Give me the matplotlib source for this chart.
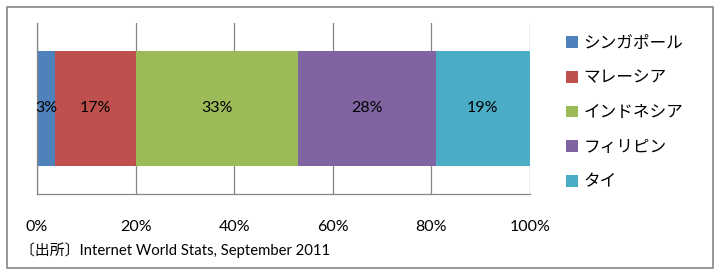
import matplotlib.pyplot as plt
from matplotlib.patches import Rectangle
from matplotlib.ticker import PercentFormatter

plt.rcParams['font.family'] = ['Lato', 'Noto Sans CJK JP', 'DejaVu Sans']

# Share of internet users (%)
countries = ["シンガポール", "マレーシア", "インドネシア", "フィリピン", "タイ"]
shares = [3.6, 16.5, 32.9, 27.9, 19.1]
share_labels = ["3%", "17%", "33%", "28%", "19%"]
colors = ["#4F81BD", "#C0504D", "#9BBB59", "#8064A2", "#4BACC6"]
ticks = [0, 20, 40, 60, 80, 100]
source = "〔出所〕Internet World Stats, September 2011"

fig = plt.figure(figsize=(7.2, 2.77), dpi=100)
ax = fig.add_axes([37 / 720, 1 - 194 / 277, 493 / 720, 171 / 277])

left = 0
for name, val, lab, col in zip(countries, shares, share_labels, colors):
    bars = ax.barh(0, val, left=left, height=0.667, color=col, label=name, zorder=2)
    ax.bar_label(bars, labels=[lab], label_type="center", fontsize=11.5, color="black")
    left += val

ax.set_xlim(0, 100)
ax.set_ylim(-0.5, 0.5)
ax.set_xticks(ticks)
ax.xaxis.set_major_formatter(PercentFormatter(decimals=0))
ax.set_yticks([])
ax.tick_params(axis="x", length=0, pad=18.5, labelsize=11.5)
ax.grid(axis="x", color="#868686", linewidth=0.9, zorder=0)
for s in ["top", "right"]:
    ax.spines[s].set_visible(False)
for s in ["left", "bottom"]:
    ax.spines[s].set_color("#868686")
    ax.spines[s].set_linewidth(0.9)

leg = ax.legend(loc="upper left", bbox_to_anchor=(566 / 720, 1 - 35 / 277),
                bbox_transform=fig.transFigure, frameon=False, fontsize=12,
                handlelength=0.7, handleheight=0.7, handletextpad=0.35,
                labelspacing=1.12, borderpad=0, borderaxespad=0)

fig.text(20 / 720, 1 - 250 / 277, source, fontsize=10.7, va="center", ha="left")

fig.patches.append(Rectangle((7 / 720, 1 - 268 / 277), 706 / 720, 261 / 277,
                             transform=fig.transFigure, fill=False,
                             edgecolor="#868686", linewidth=1.2))

fig.savefig("out.png", dpi=100)
